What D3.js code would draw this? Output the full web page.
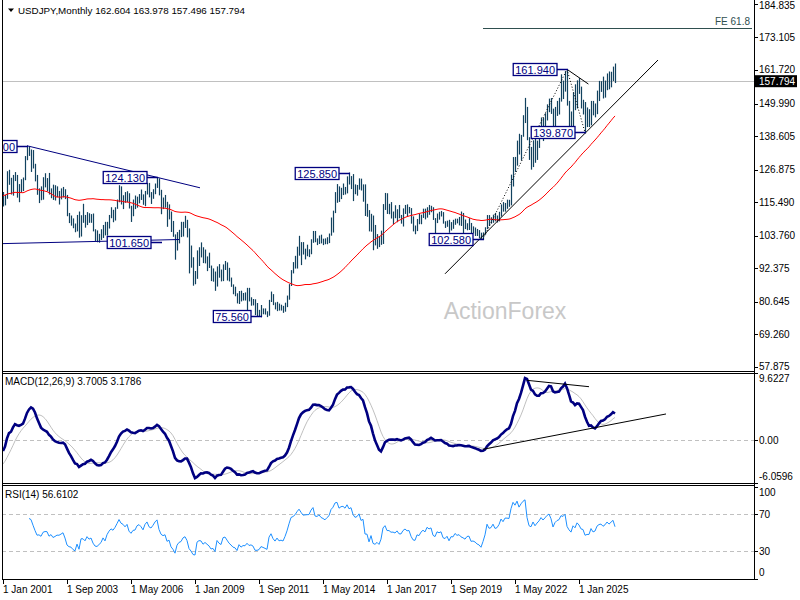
<!DOCTYPE html>
<html>
<head>
<meta charset="utf-8">
<script src="https://d3js.org/d3.v7.min.js"></script>
<style>
  body { margin: 0; background: #fff; }
  svg { display: block; font-family: "Liberation Sans", Arial, sans-serif; }
</style>
</head>
<body>
<script>
// USDJPY monthly bars, Jan 2001 .. Jul 2026 (open = previous close)
var high = [
  119.0,118.0,126.3,126.8,124.0,125.0,126.0,125.0,121.8,123.5,124.1,131.6,
  135.2,135.0,133.9,133.7,128.9,125.0,120.3,121.0,124.2,125.6,123.9,125.7,
  120.3,121.6,121.4,121.0,119.4,120.3,120.8,120.0,118.0,111.7,110.8,109.8,
  108.0,111.0,112.2,110.9,114.9,111.0,112.0,111.6,111.3,111.5,106.0,105.6,
  104.4,106.0,107.5,108.6,108.6,111.0,113.7,112.8,113.7,116.4,121.4,121.0,
  117.9,119.0,119.3,118.6,114.2,116.4,117.8,117.4,118.3,119.9,118.2,119.4,
  122.2,122.2,119.0,120.0,122.0,124.13,123.8,119.8,117.1,118.0,115.6,114.7,
  112.2,108.9,104.2,105.0,105.8,108.6,108.6,110.7,109.3,106.3,100.3,96.2,
  91.4,98.6,99.7,101.4,99.7,98.9,96.5,97.8,93.3,92.3,91.2,93.0,
  93.8,91.9,93.7,94.9,94.4,92.5,89.1,86.7,85.9,83.6,84.4,84.5,
  83.7,83.9,85.5,85.5,82.2,81.6,81.5,80.2,77.8,79.5,78.3,78.3,
  77.3,81.3,84.2,83.3,80.4,80.6,80.0,79.6,79.2,80.3,82.8,86.8,
  91.7,94.5,96.7,99.9,103.7,101.5,101.5,99.2,100.6,99.0,102.5,105.4,
  105.4,102.8,103.8,104.1,102.7,102.8,103.2,104.5,110.1,112.5,119.0,121.8,
  121.0,120.5,122.0,120.8,124.5,125.85,124.6,125.3,121.7,121.5,123.8,123.7,
  121.7,121.7,114.9,112.7,111.4,110.8,107.5,104.3,103.5,105.5,114.8,118.7,
  118.6,114.9,115.5,112.2,114.4,113.0,114.5,111.0,113.3,114.5,114.7,113.8,
  113.4,110.5,107.3,109.6,111.4,111.1,113.2,113.2,113.7,114.5,114.2,113.7,
  109.9,111.5,112.1,112.4,112.0,108.8,109.0,109.3,108.5,109.3,109.7,109.7,
  110.3,112.2,111.7,109.4,108.1,109.9,108.2,107.0,106.6,106.1,105.7,104.8,
  104.9,106.7,110.97,110.96,110.2,111.1,111.7,110.8,112.1,114.7,115.5,115.2,
  116.35,116.3,125.1,131.25,131.3,137.0,139.4,139.0,145.9,151.95,148.8,138.2,
  134.8,137.1,137.9,137.0,140.9,145.1,145.0,146.6,149.7,151.7,151.9,148.2,
  148.8,150.9,151.97,160.2,157.99,161.3,161.94,150.9,147.2,153.9,156.7,158.1,
  158.9,155.9,151.3,150.5,148.6,148.0,150.9,150.9,150.0,154.5,157.9,157.8,
  159.4,158.0,160.5,161.2,161.1,162.9,163.978
];
var low = [
  114.3,114.7,117.0,121.9,118.5,118.1,123.2,117.4,115.8,119.2,119.7,123.5,
  130.5,132.0,126.4,127.6,123.1,118.4,115.5,116.5,116.7,121.0,119.6,118.5,
  117.2,116.6,116.4,117.6,115.0,116.8,117.5,116.9,110.9,108.5,107.6,106.7,
  105.3,105.6,103.4,103.8,108.6,106.9,107.8,108.6,108.6,105.6,102.2,101.8,
  101.65,102.6,103.3,104.2,104.1,106.6,110.2,108.8,109.4,113.5,115.8,115.0,
  113.4,115.6,115.8,113.6,108.9,110.9,113.4,113.9,115.4,116.6,114.9,114.4,
  118.5,117.5,115.2,117.0,118.6,120.8,118.2,111.6,113.4,113.9,107.2,109.8,
  105.4,103.7,95.7,98.9,101.4,103.6,103.8,106.8,103.5,90.9,92.9,86.6,
  87.1,89.0,93.5,96.5,94.5,94.4,91.7,92.8,88.2,88.0,84.8,86.3,
  89.4,88.1,88.2,92.1,88.4,88.1,86.2,83.6,82.9,80.4,80.2,81.1,
  81.4,81.4,76.3,81.1,79.6,79.7,76.3,75.9,75.9,75.56,76.6,76.5,
  75.6,76.1,80.9,79.8,78.3,77.7,77.9,77.9,77.1,77.5,79.1,81.7,
  86.5,90.9,92.6,92.6,97.1,93.8,97.5,95.8,96.9,96.6,97.6,101.6,
  101.8,100.8,101.2,101.4,100.8,101.1,101.1,101.5,104.1,105.2,112.0,115.6,
  115.9,116.9,118.3,118.5,118.9,122.0,120.4,116.2,118.6,118.1,120.2,119.9,
  115.98,110.99,110.7,105.6,105.5,99.0,100.7,99.5,100.1,100.9,101.2,113.1,
  111.7,111.6,110.1,108.1,110.2,108.8,110.2,108.3,107.3,111.7,110.8,111.9,
  108.3,105.6,104.6,105.7,108.1,108.1,110.3,109.8,110.4,111.4,112.3,109.6,
  104.8,108.5,109.7,110.8,108.3,106.8,107.2,105.1,105.9,106.5,107.9,108.4,
  107.7,107.5,101.2,106.4,105.99,106.1,104.2,104.9,104.0,104.0,103.2,102.9,
  102.58,104.4,106.4,107.5,108.3,108.6,109.1,108.7,109.1,110.8,112.5,112.5,
  113.5,114.2,114.7,121.3,126.4,128.6,132.5,130.4,138.7,143.5,137.5,130.6,
  127.2,128.1,129.6,130.6,134.8,138.4,137.2,141.5,144.4,147.3,146.7,140.9,
  140.8,146.0,146.5,151.0,151.9,154.5,149.6,141.7,139.58,142.0,148.0,148.6,
  153.7,148.6,146.5,139.87,142.1,142.1,142.7,146.2,145.5,146.6,151.2,154.4,
  152.1,152.4,155.0,155.3,156.0,158.2,157.496
];
var close = [
  116.4,117.3,125.7,123.6,118.9,124.7,124.9,118.8,119.4,122.2,123.5,131.0,
  134.7,133.5,132.7,128.5,124.0,119.5,119.8,118.4,121.8,122.5,122.4,118.7,
  119.9,117.5,118.2,119.1,119.0,119.7,120.5,117.1,111.5,109.9,109.5,107.2,
  105.9,109.1,104.2,110.4,110.4,108.7,111.3,109.3,110.0,105.8,103.0,102.6,
  103.6,104.6,107.1,104.9,108.5,110.8,112.4,111.6,113.5,116.3,119.7,117.8,
  117.2,115.9,117.6,113.9,112.6,114.4,114.6,117.3,118.1,117.1,115.6,119.0,
  120.7,118.4,117.8,119.5,121.7,123.2,118.6,115.8,114.9,115.4,111.1,111.7,
  106.4,104.0,99.7,103.9,105.5,106.0,108.1,108.8,106.0,98.5,95.4,90.6,
  89.9,97.8,98.9,98.6,95.3,96.4,94.7,93.0,89.7,90.0,86.4,93.0,
  90.3,88.9,93.5,94.0,91.3,88.4,86.5,84.2,83.5,80.4,83.7,81.1,
  82.0,81.8,83.1,81.2,81.5,80.5,76.8,76.7,77.0,78.2,77.6,76.9,
  76.2,81.1,82.8,80.0,78.4,79.8,78.1,78.4,77.9,79.8,82.5,86.7,
  91.7,92.6,94.2,97.4,100.4,99.1,97.9,98.1,98.3,98.4,102.4,105.3,
  102.0,101.8,103.2,102.2,101.8,101.3,102.8,104.1,109.6,112.3,118.7,119.8,
  117.5,119.6,120.1,119.4,124.1,122.5,124.0,121.2,119.9,120.6,123.1,120.2,
  121.1,112.7,112.6,106.5,110.7,103.2,102.1,103.4,101.3,104.8,114.5,117.0,
  112.8,112.8,111.4,111.5,110.8,112.4,110.3,110.2,112.5,113.6,112.5,112.7,
  109.2,106.7,106.3,109.3,108.8,110.8,111.9,111.0,113.7,112.9,113.5,109.7,
  108.9,111.4,110.9,111.4,108.3,107.8,108.8,106.3,108.1,108.0,109.5,108.6,
  108.9,107.9,107.5,106.9,107.8,107.9,105.8,105.9,105.5,104.7,104.3,103.3,
  104.7,106.6,110.7,109.3,109.6,111.1,109.7,110.0,111.3,114.0,113.2,115.1,
  115.1,115.0,121.7,129.7,128.7,135.7,133.2,138.9,144.7,148.7,138.0,131.1,
  130.1,136.2,132.8,136.3,139.3,144.3,142.3,145.5,149.4,151.7,148.2,141.0,
  147.0,150.0,151.3,157.8,157.2,160.9,150.0,146.2,143.6,152.0,149.8,157.2,
  154.9,150.6,149.9,143.1,144.0,144.0,150.7,147.1,148.1,154.0,156.1,156.7,
  154.8,156.5,159.8,158.2,160.4,162.604,157.794
];
// closes Jul 1996 .. Dec 2000, only used to seed the moving average and MACD
var seedClose = [
  106.8,108.8,111.4,114.1,113.9,115.8,
  121.2,120.2,124.0,126.8,116.4,114.6,118.4,120.5,120.8,120.2,127.5,130.6,
  126.8,126.1,133.3,132.0,138.8,138.7,144.4,141.4,136.0,116.2,123.3,113.2,
  116.2,120.1,118.7,119.4,121.8,120.8,115.0,110.0,106.3,104.3,102.2,102.2,
  107.2,109.9,102.7,108.2,107.7,106.2,109.6,106.7,108.0,108.9,111.0,114.4
];

// axis labels
var priceTicks = [184.835, 173.105, 161.720, 149.990, 138.605, 126.875, 115.490, 103.760, 92.375, 80.645, 69.260, 57.875];
var macdRange = [-6.0596, 9.6227];
var rsiTicks = [100, 70, 30, 0];
var timeTickIdx = [0, 32, 64, 96, 128, 160, 192, 224, 256, 288];
var timeTickText = ['1 Jan 2001', '1 Sep 2003', '1 May 2006', '1 Jan 2009', '1 Sep 2011', '1 May 2014', '1 Jan 2017', '1 Sep 2019', '1 May 2022', '1 Jan 2025'];
var macdHeader = [3.7005, 3.1786];
var rsiHeader = 56.6102;

// ---- indicators ----
var off = seedClose.length;
var all = seedClose.concat(close);
var n = close.length, last = n - 1;
var open = close.map(function(c, i) { return all[i + off - 1]; });

var ma55 = close.map(function(c, i) {
  var j = i + off;
  return j < 54 ? null : d3.mean(all.slice(j - 54, j + 1));
});

function ema(arr, p) {
  var k = 2 / (p + 1), out = [arr[0]];
  for (var j = 1; j < arr.length; j++) out.push(out[j - 1] + k * (arr[j] - out[j - 1]));
  return out;
}
var e12 = ema(all, 12), e26 = ema(all, 26);
var macdAll = all.map(function(c, j) { return e12[j] - e26[j]; });
var sigAll = macdAll.map(function(m, j) { return j < 8 ? m : d3.mean(macdAll.slice(j - 8, j + 1)); });

var rsiAll = all.map(function() { return null; });
var ag = 0, al = 0;
for (var j = 1; j < all.length; j++) {
  var ch = all[j] - all[j - 1], g = Math.max(ch, 0), l = Math.max(-ch, 0);
  if (j <= 14) { ag += g / 14; al += l / 14; }
  else { ag = (ag * 13 + g) / 14; al = (al * 13 + l) / 14; }
  if (j >= 14) rsiAll[j] = al === 0 ? 100 : 100 - 100 / (1 + ag / al);
}
var macd = close.map(function(c, i) { return macdAll[i + off]; });
var signal = close.map(function(c, i) { return sigAll[i + off]; });
var rsi = close.map(function(c, i) { return rsiAll[i + off]; });

// ---- layout ----
var W = 800, H = 600, left = 2, right = 754;
var svg = d3.select('body').append('svg').attr('width', W).attr('height', H);

var x = d3.scaleLinear().domain([0, 306]).range([3, 615]);
var y = d3.scaleLinear().domain([57.875, 184.835]).range([366.8, 3.9]);
var ym = d3.scaleLinear().domain(macdRange).range([483, 373]);
var yr = d3.scaleLinear().domain([0, 100]).range([579, 486.5]);

var defs = svg.append('defs');
function clip(id, y0, y1) {
  defs.append('clipPath').attr('id', id).append('rect')
    .attr('x', left + 1).attr('y', y0).attr('width', right - left - 1).attr('height', y1 - y0);
  return svg.append('g').attr('clip-path', 'url(#' + id + ')');
}
var gMain = clip('cMain', 0, 371);
var gMacd = clip('cMacd', 374, 483);
var gRsi = clip('cRsi', 486, 579);

// watermark
gMain.append('text').attr('x', 505).attr('y', 319).attr('text-anchor', 'middle')
  .attr('font-size', 23).attr('fill', '#c8c8c8').text('ActionForex');

// current price line
gMain.append('line').attr('x1', left).attr('x2', right)
  .attr('y1', Math.round(y(close[last])) + 0.5).attr('y2', Math.round(y(close[last])) + 0.5)
  .attr('stroke', '#c0c0c0');

// FE 61.8 projection of 102.580 -> 161.940 from 139.870
var fe = low[291] + 0.618 * (high[282] - low[240]);
gMain.append('line').attr('x1', x(240)).attr('x2', right - 2)
  .attr('y1', Math.round(y(fe)) + 0.5).attr('y2', Math.round(y(fe)) + 0.5)
  .attr('stroke', '#2f4f4f');
gMain.append('text').attr('x', right - 4).attr('y', y(fe) - 3).attr('text-anchor', 'end')
  .attr('font-size', 10).attr('fill', '#2f4f4f').text('FE 61.8');

// bars
gMain.append('g').selectAll('line').data(close).join('line')
  .attr('x1', function(d, i) { return x(i) + 0.5; })
  .attr('x2', function(d, i) { return x(i) + 0.5; })
  .attr('y1', function(d, i) { return y(high[i]); })
  .attr('y2', function(d, i) { return y(low[i]) + 1; })
  .attr('stroke', '#12425f').attr('stroke-width', 1.2);

// 55 month moving average
gMain.append('path')
  .datum(ma55.map(function(v, i) { return [i, v]; }).filter(function(d) { return d[1] !== null; }))
  .attr('fill', 'none').attr('stroke', '#ff0000').attr('stroke-width', 1)
  .attr('d', d3.line().x(function(d) { return x(d[0]); }).y(function(d) { return y(d[1]); }));

// trend lines
function tline(g, sy, a, b, color, dash) {
  g.append('line').attr('x1', x(a[0])).attr('y1', sy(a[1])).attr('x2', x(b[0])).attr('y2', sy(b[1]))
    .attr('stroke', color).attr('stroke-width', 1).attr('stroke-dasharray', dash || null);
}
tline(gMain, y, [12, high[12]], [98.5, 120.5], '#000080');
tline(gMain, y, [-1.5, 100.95], [88, 102.4], '#000080');
tline(gMain, y, [221, 90.4], [327.5, 165.2], '#000');
tline(gMain, y, [282, high[282]], [292.7, 156.8], '#000');
tline(gMain, y, [240, low[240]], [282, high[282]], '#000', '1,2');
tline(gMain, y, [282, high[282]], [291, low[291]], '#000', '1,2');

// price labels
var marks = [
  {at: 12, price: high[12]},
  {at: 77, price: high[77]},
  {at: 79, price: low[48]},
  {at: 129, price: low[129]},
  {at: 173, price: high[173]},
  {at: 240, price: low[240]},
  {at: 282, price: high[282]},
  {at: 291, price: low[291]}
];
marks.forEach(function(m) {
  var py = Math.round(y(m.price)) + 0.5, bx = x(m.at) - 10;
  gMain.append('line').attr('x1', bx).attr('x2', x(m.at) + 1).attr('y1', py).attr('y2', py)
    .attr('stroke', '#000080').attr('stroke-width', 1.5);
  var t = gMain.append('text').attr('x', bx - 2).attr('y', py + 4).attr('text-anchor', 'end')
    .attr('font-size', 11).attr('fill', '#000080').text(m.price.toFixed(3));
  var w = t.node().getComputedTextLength();
  gMain.insert('rect', function() { return t.node(); })
    .attr('x', bx - w - 4).attr('y', py - 6).attr('width', w + 4).attr('height', 12)
    .attr('fill', '#fff').attr('stroke', '#000080').attr('stroke-width', 1.3);
});

// MACD panel
gMacd.append('line').attr('x1', left).attr('x2', right).attr('y1', Math.round(ym(0)) + 0.5).attr('y2', Math.round(ym(0)) + 0.5)
  .attr('stroke', '#c0c0c0').attr('stroke-dasharray', '4,3');
gMacd.append('path').datum(signal)
  .attr('fill', 'none').attr('stroke', '#c0c0c0').attr('stroke-width', 1)
  .attr('d', d3.line().x(function(d, i) { return x(i); }).y(function(d) { return ym(d); }));
gMacd.append('path').datum(macd)
  .attr('fill', 'none').attr('stroke', '#000080').attr('stroke-width', 2.6)
  .attr('d', d3.line().x(function(d, i) { return x(i); }).y(function(d) { return ym(d); }));
tline(gMacd, ym, [240, -1.25], [331.5, 3.78], '#000');
tline(gMacd, ym, [262, 8.58], [293, 7.67], '#000');

// RSI panel
[70, 30].forEach(function(v) {
  gRsi.append('line').attr('x1', left).attr('x2', right).attr('y1', Math.round(yr(v)) + 0.5).attr('y2', Math.round(yr(v)) + 0.5)
    .attr('stroke', '#c0c0c0').attr('stroke-dasharray', '4,3');
});
gRsi.append('path').datum(rsi.map(function(v, i) { return [i, v]; }).filter(function(d) { return d[0] >= 13; }))
  .attr('fill', 'none').attr('stroke', '#1e90ff').attr('stroke-width', 1)
  .attr('d', d3.line().x(function(d) { return x(d[0]); }).y(function(d) { return yr(d[1]); }));

// frames
var frame = svg.append('g').attr('stroke', '#000').attr('stroke-width', 1);
[371, 373, 483, 485, 579].forEach(function(v) {
  frame.append('line').attr('x1', left).attr('x2', right + 1).attr('y1', v + 0.5).attr('y2', v + 0.5);
});
frame.append('line').attr('x1', left + 0.5).attr('x2', left + 0.5).attr('y1', 0).attr('y2', 580);
frame.append('line').attr('x1', right + 0.5).attr('x2', right + 0.5).attr('y1', 0).attr('y2', 580);

// right axis
var axis = svg.append('g').attr('font-size', 10).attr('fill', '#000');
function rlabel(py, txt, ty) {
  frame.append('line').attr('x1', right).attr('x2', right + 4).attr('y1', Math.round(py) + 0.5).attr('y2', Math.round(py) + 0.5);
  axis.append('text').attr('x', right + 5).attr('y', (ty === undefined ? py : ty) + 3.5).text(txt);
}
priceTicks.forEach(function(p, k) { rlabel(y(p), p.toFixed(3), k === 0 ? 5 : undefined); });
rlabel(ym(macdRange[1]), macdRange[1].toFixed(4), 378);
rlabel(ym(0), '0.00');
rlabel(ym(macdRange[0]), macdRange[0].toFixed(4), 476.7);
rsiTicks.forEach(function(v) {
  var ty = v === 100 ? 492.7 : v === 0 ? 572 : yr(v);
  rlabel(yr(v), String(v), ty);
});

// current price tag
var cy = y(close[last]);
svg.append('rect').attr('x', right + 1).attr('y', cy - 6).attr('width', 42).attr('height', 12).attr('fill', '#000');
svg.append('text').attr('x', right + 5).attr('y', cy + 3.5).attr('font-size', 10).attr('fill', '#fff')
  .text(close[last].toFixed(3));

// time axis
timeTickIdx.forEach(function(i, k) {
  frame.append('line').attr('x1', x(i) + 0.5).attr('x2', x(i) + 0.5).attr('y1', 580).attr('y2', 584);
  axis.append('text').attr('x', x(i)).attr('y', 592.5).text(timeTickText[k]);
});

// headers
svg.append('path').attr('d', 'M8,8.5 L14,8.5 L11,12 Z').attr('fill', '#000');
svg.append('text').attr('x', 18).attr('y', 14).attr('font-size', 9.8).attr('fill', '#000')
  .text('USDJPY,Monthly ' + [open[last], high[last], low[last], close[last]].map(function(v) { return v.toFixed(3); }).join(' '));
svg.append('text').attr('x', 5).attr('y', 385).attr('font-size', 10).attr('fill', '#000')
  .text('MACD(12,26,9) ' + macdHeader[0].toFixed(4) + ' ' + macdHeader[1].toFixed(4));
svg.append('text').attr('x', 5).attr('y', 498).attr('font-size', 10).attr('fill', '#000')
  .text('RSI(14) ' + rsiHeader.toFixed(4));
</script>
</body>
</html>
